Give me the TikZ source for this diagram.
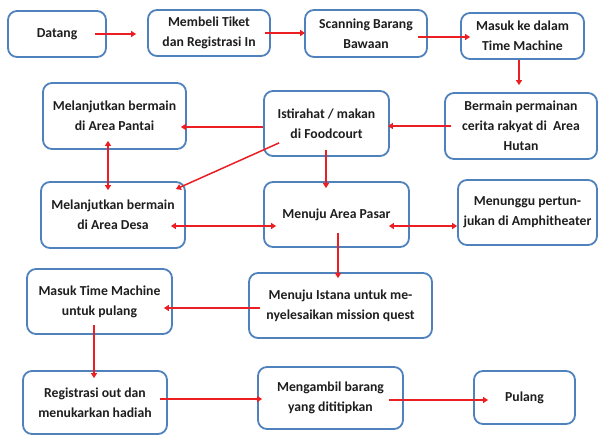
\documentclass[tikz,border=0pt]{standalone}
\usepackage{fontspec}
\setmainfont{Carlito}
\usetikzlibrary{arrows.meta}
\definecolor{boxblue}{RGB}{79,129,189}
\definecolor{arrred}{RGB}{235,30,35}
\definecolor{txt}{RGB}{30,30,30}
\tikzset{
  box/.style={draw=boxblue, line width=1.8pt, rounded corners=9pt, fill=white,
    inner sep=0pt, align=center, text=txt,
    font=\fontsize{13.7}{20}\selectfont\bfseries},
  arr/.style={draw=arrred, line width=1.5pt, -{Triangle[length=5pt,width=6pt]}},
  darr/.style={draw=arrred, line width=1.5pt, {Triangle[length=5pt,width=6pt]}-{Triangle[length=5pt,width=6pt]}}
}
\begin{document}
\begin{tikzpicture}[x=1pt,y=-1pt]
\useasboundingbox (0,0) rectangle (600,437);
\fill[white] (0,0) rectangle (600,437);

\node[box, minimum width=98pt,  minimum height=46pt] (datang) at (57,34) {Datang};
\node[box, minimum width=122pt, minimum height=46pt] (membeli) at (209,33) {Membeli Tiket\\dan Registrasi In};
\node[box, minimum width=122pt, minimum height=47pt] (scanning) at (366,33.5) {Scanning Barang\\Bawaan};
\node[box, minimum width=123pt, minimum height=46pt] (masuk) at (522.5,36) {Masuk ke dalam\\Time Machine};
\node[box, minimum width=143pt, minimum height=66pt] (pantai) at (114.5,116) {Melanjutkan bermain\\di Area Pantai};
\node[box, minimum width=125pt, minimum height=65pt] (istirahat) at (326.5,123.5) {Istirahat / makan\\di Foodcourt};
\node[box, minimum width=152pt, minimum height=66pt] (hutan) at (521,126) {Bermain permainan\\cerita rakyat di \ Area\\Hutan};
\node[box, minimum width=144pt, minimum height=66pt] (desa) at (113,215) {Melanjutkan bermain\\di Area Desa};
\node[box, minimum width=145pt, minimum height=65pt] (pasar) at (336.5,214.5) {Menuju Area Pasar};
\node[box, minimum width=139pt, minimum height=65pt] (amph) at (527.5,212.5) {Menunggu pertun-\\jukan di Amphitheater};
\node[box, minimum width=145pt, minimum height=65pt] (pulangtm) at (99.5,301.5) {Masuk Time Machine\\untuk pulang};
\node[box, minimum width=183pt, minimum height=65pt] (istana) at (340.5,305.5) {Menuju Istana untuk me-\\nyelesaikan mission quest};
\node[box, minimum width=144pt, minimum height=63pt] (registrasi) at (95,402.5) {Registrasi out dan\\menukarkan hadiah};
\node[box, minimum width=145pt, minimum height=62pt] (mengambil) at (330.5,398) {Mengambil barang\\yang dititipkan};
\node[box, minimum width=101pt, minimum height=53pt] (pulang) at (524.5,397.5) {Pulang};

\draw[arr, shorten <=-12pt, shorten >=11pt] (datang.east) -- (datang.east -| membeli.west);
\draw[arr, shorten <=-6pt, shorten >=-1pt] (membeli.east) -- (membeli.east -| scanning.west);
\draw[arr, shorten <=-10pt, shorten >=-10pt] ([yshift=-3.5pt]scanning.east) -- ([yshift=-1pt]masuk.west);
\draw[arr, shorten >=7pt] ([xshift=-3.5pt]masuk.south) -- ([xshift=-2pt]hutan.north);
\draw[arr, shorten <=-7pt, shorten >=-2pt] (hutan.west) -- ([yshift=-2.5pt]istirahat.east);
\draw[arr, shorten >=-6pt] ([yshift=-3.5pt]istirahat.west) -- ([yshift=-11pt]pantai.east);
\draw[darr, shorten <=-9pt, shorten >=-9pt] ([xshift=-6.5pt]pantai.south) -- ([xshift=-5pt]desa.north);
\draw[arr] ([xshift=16pt,yshift=14pt]istirahat.south west) -- ([xshift=-10pt,yshift=-8pt]desa.north east);
\draw[arr, shorten <=-7pt, shorten >=-7pt] ([xshift=-0.5pt]istirahat.south) -- ([xshift=-10.5pt]pasar.north);
\draw[darr, shorten <=-15pt, shorten >=-13pt] ([yshift=-11pt]desa.east) -- ([yshift=-11.5pt]pasar.west);
\draw[darr, shorten <=-21pt] ([yshift=-11.5pt]pasar.east) -- ([yshift=-13.5pt]amph.west);
\draw[arr, shorten <=-15pt, shorten >=-6pt] ([xshift=1.5pt]pasar.south) -- ([xshift=-2.5pt]istana.north);
\draw[arr, shorten <=-12pt, shorten >=-9pt] ([yshift=-2.5pt]istana.west) -- ([yshift=-6.5pt]pulangtm.east);
\draw[arr, shorten <=-10pt, shorten >=-8pt] ([xshift=-5.5pt]pulangtm.south) -- ([xshift=-1pt]registrasi.north);
\draw[arr, shorten <=-8pt, shorten >=-5pt] ([yshift=3.5pt]registrasi.east) -- ([yshift=-1pt]mengambil.west);
\draw[arr, shorten <=-15pt, shorten >=-15pt] ([yshift=-2pt]mengambil.east) -- ([yshift=-2.5pt]pulang.west);
\end{tikzpicture}
\end{document}
